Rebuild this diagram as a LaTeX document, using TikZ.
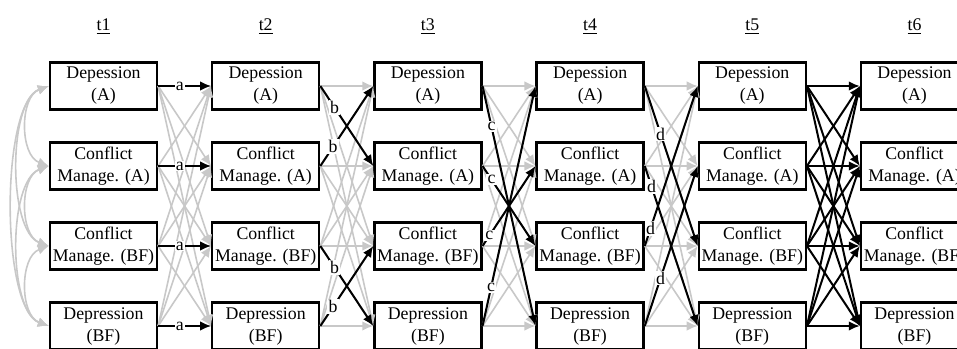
\documentclass[tikz,border=0pt]{standalone}
\usepackage{fontspec}
\setmainfont{Liberation Serif}
\usetikzlibrary{positioning,arrows.meta}
\definecolor{lightlink}{RGB}{200,200,200}

\begin{document}
\begin{tikzpicture}[x=0.5pt, y=-0.5pt,
-{Latex[length=5.5pt,width=4.8pt]}, node distance = 40pt and 81.1pt, on grid,
font=\fontsize{8.9pt}{11pt}\selectfont,
measure/.style={rectangle, draw, line width=1.15pt, fill=white, align=center,
minimum width=53.5pt, minimum height=23.5pt, inner xsep=1pt, inner ysep=1pt},
lag/.style={line width=1pt, black},
faint/.style={line width=0.8pt, lightlink},
corr/.style={faint, {Latex[length=5.5pt,width=4.8pt]}-{Latex[length=5.5pt,width=4.8pt]}},
lbl/.style={fill=white, inner sep=0.6pt, pos=#1}
]
\clip (0,0) rectangle (957,348);
% first wave
\node[measure] (DA1) at (103.5,86) {Depession\\(A)};
\node[measure] (CA1) [below = of DA1] {Conflict\\Manage. (A)};
\node[measure] (CB1) [below = of CA1] {Conflict\\Manage. (BF)};
\node[measure] (DB1) [below = of CB1] {Depression\\(BF)};
% later waves
\foreach \c [remember=\c as \p (initially 1)] in {2,...,6} {
  \node[measure] (DA\c) [right = of DA\p] {Depession\\(A)};
  \node[measure] (CA\c) [right = of CA\p] {Conflict\\Manage. (A)};
  \node[measure] (CB\c) [right = of CB\p] {Conflict\\Manage. (BF)};
  \node[measure] (DB\c) [right = of DB\p] {Depression\\(BF)};
}
\foreach \c in {1,...,6}
  \node (T\c) [above = 29.5pt of DA\c] {\underline{t\c}};
% correlations at t1
\draw[corr] (DA1.west) to[out=200,in=160] (CA1.west);
\draw[corr] (CA1.west) to[out=200,in=160] (CB1.west);
\draw[corr] (CB1.west) to[out=200,in=160] (DB1.west);
\draw[corr] (DA1.west) to[out=200,in=160,looseness=0.7] (CB1.west);
\draw[corr] (CA1.west) to[out=200,in=160,looseness=0.7] (DB1.west);
\draw[corr] (DA1.west) to[out=200,in=160,looseness=0.55] (DB1.west);
% all cross-lagged paths in grey
\foreach \s in {1,...,4} {
  \pgfmathtruncatemacro\n{\s+1}
  \foreach \u in {DA,CA,CB,DB}
    \foreach \v in {DA,CA,CB,DB}
      \draw[faint] (\u\s.east) -- (\v\n.west);
}
% a
\foreach \u in {DA,CA,CB,DB}
  \draw[lag] (\u1) -- node[lbl=0.41] {a} (\u2);
% b
\draw[lag] (DA2.east) -- node[lbl=0.27] {b} (CA3.west);
\draw[lag] (CA2.east) -- node[lbl=0.24] {b} (DA3.west);
\draw[lag] (CB2.east) -- node[lbl=0.27] {b} (DB3.west);
\draw[lag] (DB2.east) -- node[lbl=0.24] {b} (CB3.west);
% c
\draw[lag] (DA3.east) -- node[lbl=0.17] {c} (DB4.west);
\draw[lag] (CA3.east) -- node[lbl=0.17] {c} (CB4.west);
\draw[lag] (CB3.east) -- node[lbl=0.13] {c} (CA4.west);
\draw[lag] (DB3.east) -- node[lbl=0.16] {c} (DA4.west);
% d
\draw[lag] (DA4.east) -- node[lbl=0.3] {d} (CB5.west);
\draw[lag] (CA4.east) -- node[lbl=0.13] {d} (DB5.west);
\draw[lag] (CB4.east) -- node[lbl=0.11] {d} (DA5.west);
\draw[lag] (DB4.east) -- node[lbl=0.3] {d} (CA5.west);
% t5 to t6
\foreach \u in {DA,CA,CB,DB}
  \foreach \v in {DA,CA,CB,DB}
    \draw[lag] (\u5.east) -- (\v6.west);
\end{tikzpicture}
\end{document}
